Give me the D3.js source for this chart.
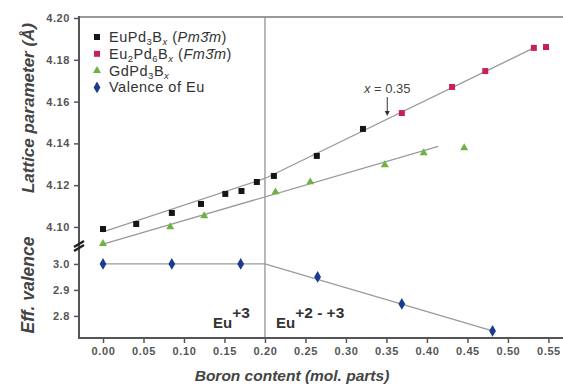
<!DOCTYPE html>
<html><head><meta charset="utf-8">
<script src="https://cdn.jsdelivr.net/npm/d3@7"></script>
<style>body{margin:0;background:#fff}svg{display:block}</style>
</head><body>
<svg id="c" width="563" height="385"></svg>
<script>
// ---- data ----
const euPd3B_x = [0.000,0.041,0.085,0.121,0.151,0.171,0.190,0.211,0.264,0.321];
const euPd3B_a = [4.0990,4.1014,4.1067,4.1110,4.1158,4.1172,4.1215,4.1244,4.1340,4.1469];
const eu2Pd6B_x = [0.369,0.431,0.472,0.532,0.547];
const eu2Pd6B_a = [4.1545,4.1670,4.1746,4.1857,4.1861];
const gdPd3B_x = [0.000,0.083,0.125,0.213,0.256,0.348,0.396,0.446];
const gdPd3B_a = [4.0920,4.1000,4.1053,4.1167,4.1215,4.1297,4.1354,4.1378];
const valence_x = [0.000,0.085,0.170,0.265,0.369,0.481];
const valence_v = [3.00,3.00,3.00,2.950,2.846,2.742];
const fitEu = [[0.000,4.0976],[0.200,4.1232],[0.532,4.1857]];
const fitGd = [[0.000,4.0918],[0.414,4.1385]];
const fitVal = [[0.000,3.000],[0.200,3.000],[0.481,2.742]];
const xTicks = [0.00,0.05,0.10,0.15,0.20,0.25,0.30,0.35,0.40,0.45,0.50,0.55];
const yTopTicks = [4.10,4.12,4.14,4.16,4.18,4.20];
const yBotTicks = [2.8,2.9,3.0];
const boundaryX = 0.20;
const markX = 0.351;

const svg = d3.select('#c');
const font = 'Liberation Sans, Arial, sans-serif';
const x = d3.scaleLinear().domain([-0.03,0.568]).range([78.7,563]);
const yT = d3.scaleLinear().domain([4.0904,4.20]).range([247,18]);
const yB = d3.scaleLinear().domain([2.715,3.046]).range([338,252]);
const axisCol = '#555', lineCol = '#9a9a9a';

// frame top line
svg.append('line').attr('x1',79).attr('x2',563).attr('y1',17).attr('y2',17)
  .attr('stroke','#999').attr('stroke-width',2);

// vertical boundary
svg.append('line').attr('x1',x(boundaryX)).attr('x2',x(boundaryX)).attr('y1',17).attr('y2',338)
  .attr('stroke','#8a8a8a').attr('stroke-width',1.2);

// axes
function styleAxis(g){
  g.select('.domain').remove();
  g.selectAll('line').attr('stroke',axisCol).attr('stroke-width',1.5);
  g.selectAll('text').attr('font-family',font).attr('font-size',11).attr('font-weight','bold')
    .attr('letter-spacing',0.6).attr('fill','#555');
}
const gx = svg.append('g').attr('transform','translate(0,338)')
  .call(d3.axisBottom(x).tickValues(xTicks).tickFormat(d3.format('.2f')).tickSize(5).tickPadding(4));
styleAxis(gx);
const gyT = svg.append('g').attr('transform','translate(79,0)')
  .call(d3.axisLeft(yT).tickValues(yTopTicks).tickFormat(d3.format('.2f')).tickSize(5).tickPadding(4));
styleAxis(gyT);
const gyB = svg.append('g').attr('transform','translate(79,0)')
  .call(d3.axisLeft(yB).tickValues(yBotTicks).tickFormat(d3.format('.1f')).tickSize(5).tickPadding(4));
styleAxis(gyB);

// axis lines
svg.append('line').attr('x1',79).attr('x2',79).attr('y1',16).attr('y2',339).attr('stroke','#555').attr('stroke-width',2);
svg.append('line').attr('x1',78).attr('x2',563).attr('y1',338).attr('y2',338).attr('stroke','#555').attr('stroke-width',2);
// axis break marks
[0,4].forEach(o=>{
  svg.append('line').attr('x1',74).attr('x2',84).attr('y1',251+o-4).attr('y2',245+o-4)
    .attr('stroke','#222').attr('stroke-width',2.5);
});

// fit lines
const lT = d3.line().x(d=>x(d[0])).y(d=>yT(d[1]));
const lB = d3.line().x(d=>x(d[0])).y(d=>yB(d[1]));
svg.append('path').attr('d',lT(fitEu)).attr('fill','none').attr('stroke',lineCol).attr('stroke-width',1.3);
svg.append('path').attr('d',lT(fitGd)).attr('fill','none').attr('stroke',lineCol).attr('stroke-width',1.3);
svg.append('path').attr('d',lB(fitVal)).attr('fill','none').attr('stroke',lineCol).attr('stroke-width',1.3);

// markers
const sq = d3.symbol().type(d3.symbolSquare).size(36);
const tri = d3.symbol().type(d3.symbolTriangle).size(28);
const dia = d3.symbol().type(d3.symbolDiamond).size(40);
const cBlack='#151515', cRed='#c81e5a', cGreen='#6cb43f', cBlue='#1c3a8e';
function pts(xs,ys,sc,sym,col){
  svg.append('g').selectAll('path').data(xs).join('path')
    .attr('transform',(d,i)=>`translate(${x(d)},${sc(ys[i])})`).attr('d',sym).attr('fill',col);
}
pts(euPd3B_x,euPd3B_a,yT,sq,cBlack);
pts(eu2Pd6B_x,eu2Pd6B_a,yT,sq,cRed);
pts(gdPd3B_x,gdPd3B_a,yT,tri,cGreen);
pts(valence_x,valence_v,yB,dia,cBlue);

// legend: part kinds 0 normal, 1 subscript, 2 italic subscript, 3 italic
const leg = [
  {sym:sq,col:cBlack,parts:[['EuPd',0],['3',1],['B',0],['x',2],[' (',0],['Pm3\u0304m',3],[')',0]]},
  {sym:sq,col:cRed,parts:[['Eu',0],['2',1],['Pd',0],['6',1],['B',0],['x',2],[' (',0],['Fm3\u0304m',3],[')',0]]},
  {sym:tri,col:cGreen,parts:[['GdPd',0],['3',1],['B',0],['x',2]]},
  {sym:dia,col:cBlue,parts:[['Valence of Eu',0]]}
];
leg.forEach((r,i)=>{
  const cy = 37 + i*16.8;
  svg.append('path').attr('transform',`translate(97,${cy})`).attr('d',r.sym).attr('fill',r.col);
  const t = svg.append('text').attr('x',109).attr('y',cy+5).attr('font-family',font).attr('font-size',14.5)
    .attr('letter-spacing',0.5).attr('fill','#333');
  let low = false;
  r.parts.forEach(p=>{
    const ts = t.append('tspan').text(p[0]);
    const sub = (p[1]===1||p[1]===2);
    if(sub && !low){ts.attr('dy',3); low=true;}
    else if(!sub && low){ts.attr('dy',-3); low=false;}
    if(sub) ts.attr('font-size',9.5);
    if(p[1]===2||p[1]===3) ts.attr('font-style','italic');
  });
});

// annotation x = 0.35
const at = svg.append('text').attr('x',x(markX)).attr('y',93).attr('text-anchor','middle')
  .attr('font-family',font).attr('font-size',13).attr('fill','#444');
at.append('tspan').attr('font-style','italic').text('x');
at.append('tspan').text(' = 0.35');
svg.append('line').attr('x1',x(markX)).attr('x2',x(markX)).attr('y1',97).attr('y2',113).attr('stroke','#333').attr('stroke-width',1);
svg.append('path').attr('d',`M${x(markX)-2.5},${111}L${x(markX)+2.5},${111}L${x(markX)},${116}Z`).attr('fill','#333');

// region labels
function regLabel(xp,base,sup){
  const t = svg.append('text').attr('x',xp).attr('y',328).attr('font-family',font)
    .attr('font-size',15).attr('font-weight','bold').attr('fill','#333');
  t.append('tspan').text(base);
  t.append('tspan').attr('dy',-10).attr('font-size',15.5).text(sup);
}
regLabel(213,'Eu','+3');
regLabel(276,'Eu','+2 - +3');

// axis titles
svg.append('text').attr('transform','translate(34,108) rotate(-90)').attr('text-anchor','middle')
  .attr('font-family',font).attr('font-size',17).attr('font-weight','bold').attr('font-style','italic')
  .attr('fill','#444').text('Lattice parameter (Å)');
svg.append('text').attr('transform','translate(34,285) rotate(-90)').attr('text-anchor','middle')
  .attr('font-family',font).attr('font-size',17.5).attr('font-weight','bold').attr('font-style','italic')
  .attr('fill','#444').text('Eff. valence');
svg.append('text').attr('x',292).attr('y',381).attr('text-anchor','middle')
  .attr('font-family',font).attr('font-size',15.5).attr('font-weight','bold').attr('font-style','italic')
  .attr('fill','#444').text('Boron content (mol. parts)');
</script>
</body></html>
